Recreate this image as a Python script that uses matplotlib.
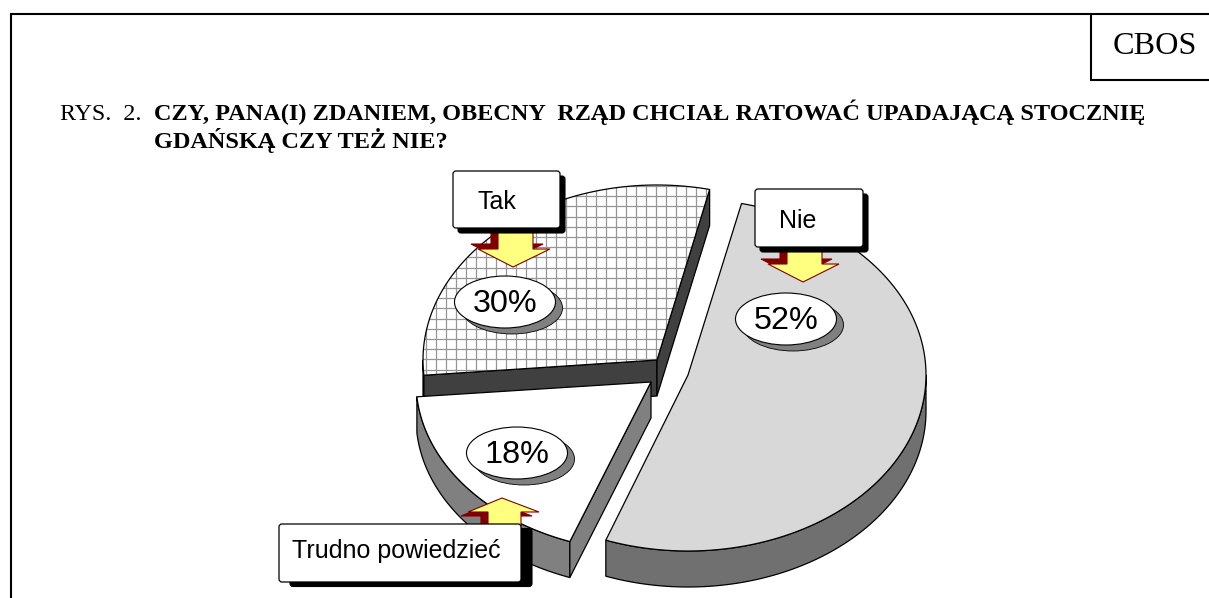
import numpy as np
import matplotlib
matplotlib.use("Agg")
import matplotlib.pyplot as plt
from matplotlib.patches import Polygon, Ellipse, FancyBboxPatch

# --- data ---
categories = ["Nie", "Trudno powiedzieć", "Tak"]
values = [52, 18, 30]
title_prefix = "RYS.  2."
title_lines = ["CZY, PANA(I) ZDANIEM, OBECNY  RZĄD CHCIAŁ RATOWAĆ UPADAJĄCĄ STOCZNIĘ",
               "GDAŃSKĄ CZY TEŻ NIE?"]
source = "CBOS"

# --- geometry / style (pixel space) ---
W, H = 1209, 598
DEPTH = 36
START = 77.0
radii = {"Nie": (238, 176), "Trudno powiedzieć": (235, 170), "Tak": (234, 175)}
apex = {"Nie": (688, 375), "Trudno powiedzieć": (651, 382), "Tak": (657, 360)}
face = {"Nie": "#D8D8D8", "Trudno powiedzieć": "#FFFFFF", "Tak": "#FFFFFF"}
rim = {"Nie": "#707070", "Trudno powiedzieć": "#808080", "Tak": "#404040"}
cut = {"Nie": "#707070", "Trudno powiedzieć": "#808080", "Tak": "#404040"}
pct_pos = {"Nie": (786, 319), "Trudno powiedzieć": (517, 453), "Tak": (505, 302)}
box = {"Nie": (755, 189, 108, 58), "Trudno powiedzieć": (279, 524, 242, 58), "Tak": (453, 171, 107, 57)}
box_shadow = {"Nie": (5, 5), "Trudno powiedzieć": (11, 4.5), "Tak": (5, 5)}
label_pos = {"Nie": (779, 221), "Trudno powiedzieć": (292, 551), "Tak": (477, 202)}
# arrow: stem left, stem right, head left, head right, tip x, root y, neck y, tip y
arrow = {"Nie": (787, 822, 768, 839, 803, 245, 264, 282),
         "Trudno powiedzieć": (488, 521, 468, 539, 502, 526, 512, 498),
         "Tak": (498, 533, 478, 550, 513, 226, 249, 267)}
arrow_shadow = {"Nie": (-7, -5), "Trudno powiedzieć": (-7, 4), "Tak": (-7, -5)}

plt.rcParams["font.family"] = ["Liberation Sans", "DejaVu Sans"]
fig = plt.figure(figsize=(W / 100, H / 100), dpi=100)
ax = fig.add_axes([0, 0, 1, 1])
ax.set_xlim(0, W)
ax.set_ylim(H, 0)
ax.axis("off")

# angles from the values (clockwise from START)
spans = {}
cur = START
for c, v in zip(categories, values):
    spans[c] = (cur, cur - v * 3.6)
    cur -= v * 3.6


def pt(c, t):
    cx, cy = apex[c]
    a, b = radii[c]
    r = np.radians(t)
    return np.column_stack([cx + a * np.cos(r), cy - b * np.sin(r)])


def draw_slice(c, z):
    t0, t1 = spans[c]
    cx, cy = apex[c]
    ts = np.linspace(t0, t1, 200)
    arc = pt(c, ts)
    lw = 0.9
    # outer rim: the part of the arc facing the viewer (sin t < 0)
    vis = np.sin(np.radians(ts)) < 0
    if vis.any():
        a = arc[vis]
        poly = np.vstack([a, (a + [0, DEPTH])[::-1]])
        ax.add_patch(Polygon(poly, fc=rim[c], ec="black", lw=lw, zorder=z, joinstyle="round"))
    # cut faces of the wedge
    if c != "Nie":
        for end in ((t0, t1) if c == "Tak" else (t0,)):
            p = pt(c, np.array([end]))[0]
            poly = [(cx, cy), p, p + [0, DEPTH], (cx, cy + DEPTH)]
            ax.add_patch(Polygon(poly, fc=cut[c], ec="black", lw=lw, zorder=z + 0.1))
    top = np.vstack([[(cx, cy)], arc])
    fp = Polygon(top, fc=face[c], ec="none", zorder=z + 0.2)
    ax.add_patch(fp)
    if c == "Tak":
        for x in range(415, 725, 10):
            l = ax.plot([x + 0.5, x + 0.5], [170, 400], color="#969696", lw=0.9, zorder=z + 0.3)[0]
            l.set_clip_path(fp)
        for y in np.arange(186, 400, 10.2):
            l = ax.plot([415, 725], [y, y], color="#969696", lw=0.9, zorder=z + 0.3)[0]
            l.set_clip_path(fp)
    ax.add_patch(Polygon(top, fc="none", ec="black", lw=lw, zorder=z + 0.4))


draw_slice("Tak", 2)
draw_slice("Trudno powiedzieć", 3)
draw_slice("Nie", 4)

# percentage ovals
for c, v in zip(categories, values):
    x, y = pct_pos[c]
    ax.add_patch(Ellipse((x + 7, y + 6), 101, 52, fc="#808080", ec="black", lw=0.6, zorder=6))
    ax.add_patch(Ellipse((x, y), 101, 52, fc="white", ec="black", lw=0.8, zorder=6.1))
    ax.text(x, y + 2, f"{v}%", fontsize=23.3, ha="center", va="center", color="black", zorder=6.2)

# arrows + callout boxes
for c in categories:
    sl, sr, hl, hr, tx, ry, ny, ty = arrow[c]
    pts = np.array([(sl, ry), (sr, ry), (sr, ny), (hr, ny), (tx, ty), (hl, ny), (sl, ny)], float)
    ax.add_patch(Polygon(pts + arrow_shadow[c], fc="#800000", ec="#800000", lw=0.8, zorder=7))
    ax.add_patch(Polygon(pts, fc="#FFFF80", ec="#800000", lw=0.8, zorder=7.1))
    x, y, w, h = box[c]
    dx, dy = box_shadow[c]
    ax.add_patch(FancyBboxPatch((x + dx, y + dy), w, h, boxstyle="round,pad=0,rounding_size=3",
                                fc="black", ec="black", lw=0.8, zorder=8))
    ax.add_patch(FancyBboxPatch((x, y), w, h, boxstyle="round,pad=0,rounding_size=3",
                                fc="white", ec="black", lw=0.9, zorder=8.1))
    lx, ly = label_pos[c]
    ax.text(lx, ly, c, fontsize=18, ha="left", va="center", color="black", zorder=8.2)

# frame
lk = dict(color="black", lw=1.5, solid_capstyle="butt", zorder=1)
ax.plot([10.5, 10.5], [14, H], **lk)
ax.plot([10, W], [14, 14], **lk)
ax.plot([1090.5, 1090.5], [14, 80], **lk)
ax.plot([1090, W], [80, 80], **lk)
ax.text(1154.5, 47, source, family="Liberation Serif", fontsize=23.2, ha="center", va="center")

# headings
ax.text(60, 120, title_prefix, family="Liberation Serif", fontsize=17.3, ha="left", va="baseline")
ax.text(154, 120, title_lines[0], family="Liberation Serif", fontweight="bold", fontsize=17.5,
        ha="left", va="baseline")
ax.text(154, 148, title_lines[1], family="Liberation Serif", fontweight="bold", fontsize=17.5,
        ha="left", va="baseline")

fig.savefig("out.png", dpi=100, facecolor="white")
